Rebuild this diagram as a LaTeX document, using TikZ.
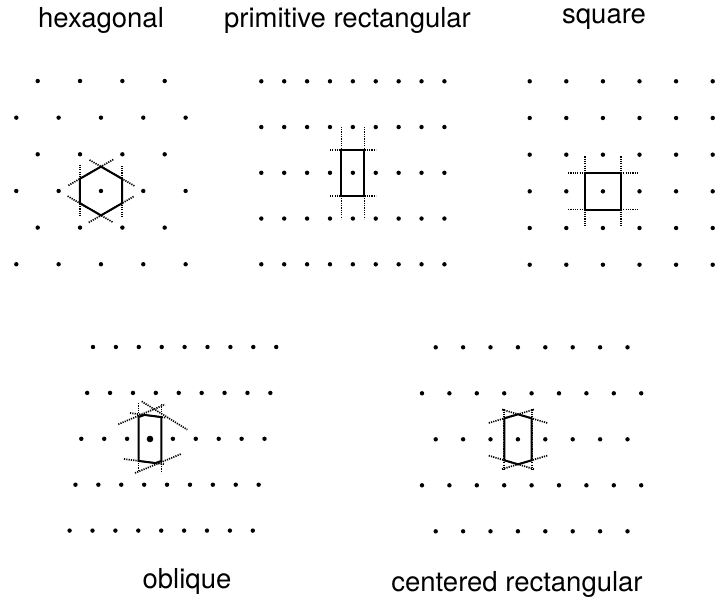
\documentclass[tikz,border=0pt]{standalone}
\usepackage{fontspec}
\setmainfont{TeX Gyre Heros}
\usetikzlibrary{calc}
\begin{document}
\begin{tikzpicture}[x=1pt,y=-1pt,
  cell/.style={line width=2pt, line join=miter},
  bisect/.style={line width=1.7pt, dash pattern=on 1.2pt off 1.1pt, black},
  lbl/.style={font=\fontsize{27.5}{31}\selectfont, anchor=base, inner sep=0pt}]
\useasboundingbox (0,0) rectangle (715,608);
\def\dotr{2.2pt}

% ---------- hexagonal ----------
\begin{scope}[shift={(101,191)}]
  \foreach \k in {0,...,5} \coordinate (h\k) at ({90-60*\k}:24.4);
  \foreach \k [evaluate=\k as \n using {int(mod(\k+1,6))}] in {0,...,5}
    \draw[bisect] ($(h\k)!-0.58!(h\n)$) -- ($(h\n)!-0.58!(h\k)$);
  \draw[cell] (h0)--(h1)--(h2)--(h3)--(h4)--(h5)--cycle;
\end{scope}
\foreach \j in {0,2,4} \foreach \i in {0,...,3}
  \fill (37.7+42.33*\i, 81+36.65*\j) circle[radius=\dotr];
\foreach \j in {1,3,5} \foreach \i in {0,...,4}
  \fill (16.3+42.33*\i, 81+36.65*\j) circle[radius=\dotr];

% ---------- primitive rectangular ----------
\begin{scope}[shift={(352.9,172.8)}]
  \draw[bisect] (-11.45,-46) -- (-11.45,46);
  \draw[bisect] (11.45,-46) -- (11.45,46);
  \draw[bisect] (-23,-22.9) -- (23,-22.9);
  \draw[bisect] (-23,22.9) -- (23,22.9);
  \draw[cell] (-11.45,-22.9) rectangle (11.45,22.9);
\end{scope}
\foreach \j in {0,...,4} \foreach \i in {0,...,8}
  \fill (261.3+22.89*\i, 81.3+45.75*\j) circle[radius=\dotr];

% ---------- square ----------
\begin{scope}[shift={(603,191.3)}]
  \draw[bisect] (-18.3,-35) -- (-18.3,35);
  \draw[bisect] (18.3,-35) -- (18.3,35);
  \draw[bisect] (-35,-18.3) -- (35,-18.3);
  \draw[bisect] (-35,18.3) -- (35,18.3);
  \draw[cell] (-18.3,-18.3) rectangle (18.3,18.3);
\end{scope}
\foreach \j in {0,...,5} \foreach \i in {0,...,5}
  \fill (529.7+36.6*\i, 81.3+36.68*\j) circle[radius=\dotr];

% ---------- oblique ----------
\begin{scope}[shift={(150,439)}]
  \draw[bisect] (-11.45,-36) -- (-11.45,33);
  \draw[bisect] (11.45,-35) -- (11.45,34);
  \draw[bisect] (-31.7,-14.7) -- (15,-34.5);
  \draw[bisect] (-8.3,-37.6) -- (37.3,-9.3);
  \draw[bisect] (-20,-26) -- (15,-21.4);
  \draw[bisect] (-15,34) -- (31.7,14.7);
  \draw[bisect] (-26,20) -- (15,25.3);
  \draw[cell] (-11.45,-21.9) -- (-5.45,-24.1) -- (11.45,-21.9) -- (11.45,21.9)
              -- (5.45,24.1) -- (-11.45,21.9) -- cycle;
\end{scope}
\foreach \j in {0,...,4} \foreach \i in {0,...,8}
  \fill (93-5.85*\j+22.9*\i, 347+45.9*\j) circle[radius=\dotr];
\fill (150,439) circle[radius=3.3pt];

% ---------- centered rectangular ----------
\begin{scope}[shift={(518,439.3)}]
  \draw[bisect] (-13.7,-30) -- (-13.7,31);
  \draw[bisect] (13.7,-30) -- (13.7,31);
  \draw[bisect] (-16,-29.8) -- (30,-16.1);
  \draw[bisect] (16,-29.8) -- (-30,-16.1);
  \draw[bisect] (-16,29.8) -- (30,16.1);
  \draw[bisect] (16,29.8) -- (-30,16.1);
  \draw[cell] (0,-25) -- (13.7,-21) -- (13.7,21) -- (0,25) -- (-13.7,21)
              -- (-13.7,-21) -- cycle;
\end{scope}
\foreach \j in {0,2,4} \foreach \i in {0,...,7}
  \fill (435.7+27.4*\i, 347.3+46*\j) circle[radius=\dotr];
\foreach \j in {1,3} \foreach \i in {0,...,8}
  \fill (422+27.4*\i, 347.3+46*\j) circle[radius=\dotr];

% ---------- labels ----------
\node[lbl] (lhex) at (101,27) {hexagonal};
\node[lbl] (lrect) at (347.5,27) {primitive rectangular};
\node[lbl] (lsq) at (604,23) {square};
\node[lbl] (lobl) at (187,588) {oblique};
\node[lbl] (lcen) at (517,591) {centered rectangular};
\end{tikzpicture}
\end{document}
